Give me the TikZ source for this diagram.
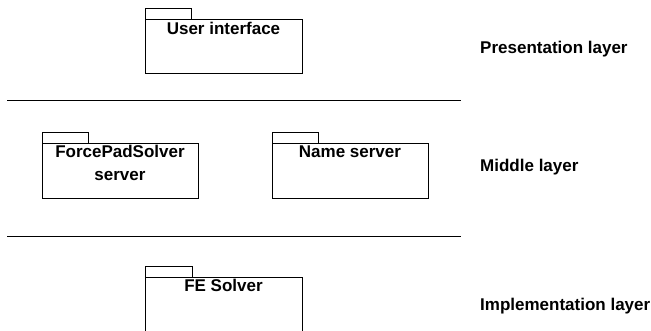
\documentclass[tikz,border=0pt]{standalone}
\usepackage{fontspec}
\setmainfont{Liberation Sans}
\begin{document}
\begin{tikzpicture}[x=1pt,y=-1pt,
  pkgbody/.style={draw, line width=0.9pt, rectangle, inner sep=0pt, anchor=north west},
  pkgtext/.style={font=\fontsize{17}{23}\selectfont\bfseries, anchor=base, inner sep=0pt, align=center},
  laytext/.style={font=\fontsize{17}{20}\selectfont\bfseries, anchor=base west, inner sep=0pt},
  sep/.style={line width=0.9pt}]
\useasboundingbox (0,0) rectangle (651,331);
% Presentation
\node[pkgbody, minimum width=157, minimum height=54] (ui) at (145,19) {};
\draw[line width=0.9pt] (ui.north west) rectangle ++(46,-11);
\node[pkgtext] (uit) at (223.5,35) {User interface};
% Middle
\node[pkgbody, minimum width=156, minimum height=55] (fp) at (42,143) {};
\draw[line width=0.9pt] (fp.north west) rectangle ++(46,-11);
\node[pkgtext] (fpt) at (120,180.5) {ForcePadSolver\\server};
\node[pkgbody, minimum width=156, minimum height=55] (ns) at (272,143) {};
\draw[line width=0.9pt] (ns.north west) rectangle ++(46,-11);
\node[pkgtext] (nst) at (350,157.5) {Name server};
% Implementation
\node[pkgbody, minimum width=157, minimum height=70] (fe) at (145,277) {};
\draw[line width=0.9pt] (fe.north west) rectangle ++(47,-11);
\node[pkgtext] (fet) at (223.5,291.5) {FE Solver};
% separators
\coordinate (s1a) at (7,100); \coordinate (s1b) at (461,100);
\coordinate (s2a) at (7,236); \coordinate (s2b) at (461,236);
\draw[sep] (s1a) -- (s1b);
\draw[sep] (s2a) -- (s2b);
% layer labels
\node[laytext] (pl) at (480,54) {Presentation layer};
\node[laytext] (ml) at (480,172) {Middle layer};
\node[laytext] (il) at (480,311) {Implementation layer};
\end{tikzpicture}
\end{document}
